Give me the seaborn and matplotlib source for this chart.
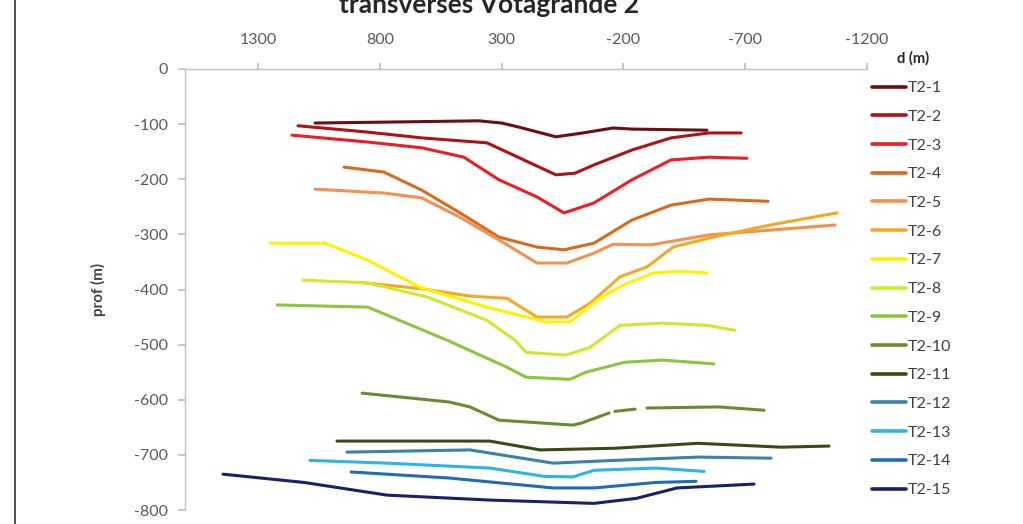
import numpy as np
import pandas as pd
import seaborn as sns
import matplotlib.pyplot as plt
from matplotlib.lines import Line2D

# profils transverses Votagrande 2 : d (m) / prof (m)
# None = trou dans la courbe
series = ['T2-1', 'T2-2', 'T2-3', 'T2-4', 'T2-5', 'T2-6', 'T2-7', 'T2-8',
          'T2-9', 'T2-10', 'T2-11', 'T2-12', 'T2-13', 'T2-14', 'T2-15']

d_t2_1 = [1066, 717, 393, 300, 233, 77, -34, -157, -235, -543]
p_t2_1 = [-98, -96, -94, -98, -105, -123, -116, -107, -109, -111]

d_t2_2 = [1136, 861, 627, 360, 233, 77, -1, -79, -235, -395, -551, -683]
p_t2_2 = [-103, -114, -125, -134, -160, -192, -189, -174, -147, -125, -116, -116]

d_t2_3 = [1161, 861, 627, 455, 311, 155, 44, -79, -235, -395, -551, -707]
p_t2_3 = [-120, -132, -143, -160, -201, -232, -261, -243, -201, -165, -160, -162]

d_t2_4 = [947, 783, 627, 471, 311, 155, 44, -79, -235, -395, -551, -794]
p_t2_4 = [-178, -187, -220, -261, -305, -323, -328, -316, -274, -247, -236, -240]

d_t2_5 = [1066, 783, 627, 471, 311, 155, 32, -79, -157, -313, -551, -1069]
p_t2_5 = [-218, -225, -234, -269, -310, -352, -352, -334, -318, -319, -301, -283]

d_t2_6 = [882, 623, 430, 278, 155, 32, -63, -186, -297, -404, -568, -802, -1077]
p_t2_6 = [-387, -399, -412, -416, -450, -450, -425, -377, -359, -323, -305, -283, -261]

d_t2_7 = [1251, 1025, 849, 635, 360, 118, 19, -92, -198, -321, -432, -543]
p_t2_7 = [-316, -316, -347, -396, -432, -459, -459, -419, -392, -370, -367, -370]

d_t2_8 = [1116, 849, 602, 360, 245, 200, 36, -63, -186, -362, -543, -658]
p_t2_8 = [-383, -388, -414, -456, -492, -514, -519, -505, -465, -461, -465, -474]

d_t2_9 = [1222, 849, 524, 278, 200, 19, -46, -206, -362, -572]
p_t2_9 = [-428, -432, -492, -541, -559, -563, -550, -532, -528, -535]

d_t2_10 = [873, 516, 430, 311, 7, -30, -141, None, -165, -248, None, -297, -592, -777]
p_t2_10 = [-588, -604, -613, -637, -646, -642, -624, None, -621, -617, None, -615, -613, -619]

d_t2_11 = [976, 348, 142, -165, -506, -847, -1044]
p_t2_11 = [-675, -675, -691, -688, -679, -686, -684]

d_t2_12 = [935, 430, 89, -165, -506, -806]
p_t2_12 = [-695, -691, -715, -710, -704, -706]

d_t2_13 = [1087, 771, 348, 126, 7, -79, -334, -531]
p_t2_13 = [-710, -715, -724, -739, -740, -728, -724, -730]

d_t2_14 = [918, 516, 89, -79, -334, -498]
p_t2_14 = [-731, -742, -760, -760, -750, -748]

d_t2_15 = [1444, 1112, 771, 348, -79, -252, -420, -736]
p_t2_15 = [-735, -750, -773, -782, -788, -779, -760, -753]

colors = ['#6b0f12', '#b01116', '#ee1c25', '#d86a1e', '#f39150', '#f7a823',
          '#fff200', '#d2e82a', '#8cc63f', '#6b8a2e', '#3a4a16', '#3b82a8',
          '#2cb5e8', '#1f6db5', '#1b2068']

d_all = [d_t2_1, d_t2_2, d_t2_3, d_t2_4, d_t2_5, d_t2_6, d_t2_7, d_t2_8,
         d_t2_9, d_t2_10, d_t2_11, d_t2_12, d_t2_13, d_t2_14, d_t2_15]
p_all = [p_t2_1, p_t2_2, p_t2_3, p_t2_4, p_t2_5, p_t2_6, p_t2_7, p_t2_8,
         p_t2_9, p_t2_10, p_t2_11, p_t2_12, p_t2_13, p_t2_14, p_t2_15]

# tableau long, un numero de segment par morceau continu
rows = []
for name, ds, ps in zip(series, d_all, p_all):
    seg = 0
    for d, p in zip(ds, ps):
        if d is None:
            seg += 1
            continue
        rows.append((name, seg, d, p))
df = pd.DataFrame(rows, columns=['serie', 'seg', 'd', 'prof'])

sns.set_theme(style='white')
plt.rcParams['font.family'] = ['Lato', 'DejaVu Sans']
plt.rcParams['axes.unicode_minus'] = False

fig = plt.figure(figsize=(10.23, 5.24), dpi=100)
ax = fig.add_axes([185 / 1023, 14 / 524, 682 / 1023, 441 / 524])

sns.lineplot(data=df, x='d', y='prof', hue='serie', units='seg', estimator=None,
             sort=False, palette=dict(zip(series, colors)), legend=False,
             linewidth=2.2, ax=ax)

ax.set_xlim(1600, -1200)
ax.set_ylim(-800, 0)
ax.set_xticks([1300, 800, 300, -200, -700, -1200])
ax.set_yticks(np.arange(0, -801, -100))
ax.xaxis.tick_top()
ax.set_xlabel('')
ax.set_ylabel('prof (m)', fontsize=11, fontweight='bold', color='#404040', labelpad=20)

for s in ['right', 'bottom']:
    ax.spines[s].set_visible(False)
for s in ['top', 'left']:
    ax.spines[s].set_color('#c0c0c0')
    ax.spines[s].set_linewidth(1)
ax.tick_params(axis='x', top=True, direction='out', length=4, color='#c0c0c0',
               labelsize=11.5, labelcolor='#595959', pad=12)
ax.tick_params(axis='y', left=True, direction='out', length=5, color='#c0c0c0',
               labelsize=11.5, labelcolor='#595959', pad=7)

handles = [Line2D([], [], color=c, lw=2.6) for c in colors]
fig.legend(handles, series, loc='upper left', bbox_to_anchor=(872 / 1023, 1 - 81 / 524),
           frameon=False, fontsize=11.5, labelcolor='#404040', handlelength=2.1,
           handletextpad=0.15, labelspacing=0.91, borderpad=0, borderaxespad=0)
fig.text(913 / 1023, 1 - 58 / 524, 'd (m)', ha='center', va='center',
         fontsize=10.5, fontweight='bold', color='#262626')

# titre coupe en haut
fig.text(489 / 1023, 1 - 5 / 524, 'transverses Votagrande 2', ha='center', va='center',
         fontsize=19, fontweight='bold', color='#262626')

# bord gauche du cadre
fig.add_artist(Line2D([15 / 1023, 15 / 1023], [0, 1], color='#333333', lw=1.2))

fig.savefig('out.png', dpi=100)
